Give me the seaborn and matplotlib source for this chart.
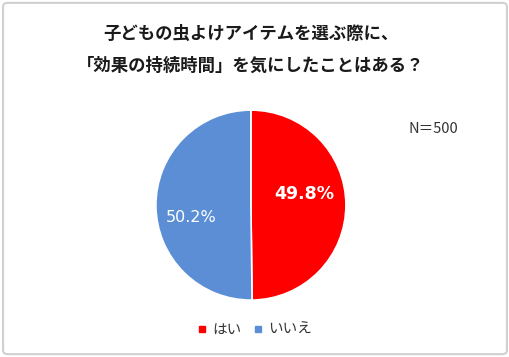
import matplotlib
matplotlib.use("Agg")
import matplotlib.pyplot as plt
import seaborn as sns
from matplotlib.patches import FancyBboxPatch

# data
labels = ["はい", "いいえ"]
values = [49.8, 50.2]
colors = ["#FF0000", "#5B8ED5"]
title = "子どもの虫よけアイテムを選ぶ際に、\n「効果の持続時間」を気にしたことはある？"
n_note = "N＝500"

sns.set_theme(style="white")
plt.rcParams['font.family'] = ['Noto Sans CJK JP', 'DejaVu Sans']

fig = plt.figure(figsize=(5.1, 3.57), dpi=100)

# outer frame like the original chart area
fig.patches.append(FancyBboxPatch((0.006, 0.008), 0.988, 0.984, boxstyle="round,pad=0,rounding_size=0.01",
                                  transform=fig.transFigure, fill=False, edgecolor="#D0D0D0", linewidth=1.5))

ax = fig.add_axes([0.302, 0.154, 0.380, 0.543])
wedges, texts, autotexts = ax.pie(values, colors=colors, startangle=90, counterclock=False,
                                  autopct="%1.1f%%", pctdistance=0.6,
                                  wedgeprops=dict(edgecolor="white", linewidth=1.2))
ax.set_aspect("equal")
ax.set_xlim(-1.02, 1.02)
ax.set_ylim(-1.02, 1.02)

autotexts[0].set_position((0.56, 0.12))
autotexts[0].set_fontsize(12.5)
autotexts[0].set_fontweight("bold")
autotexts[0].set_color("white")
autotexts[1].set_position((-0.63, -0.13))
autotexts[1].set_fontsize(11.5)
autotexts[1].set_color("white")
for t in autotexts:
    t.set_family(['DejaVu Sans'])

fig.text(0.492, 0.86, title, ha="center", va="center", fontsize=12.5, fontweight="bold",
         color="#1A1A1A", linespacing=2.0)
fig.text(0.85, 0.64, n_note, ha="center", va="center", fontsize=10.5, color="#333333")

handles = [plt.Line2D([], [], marker="s", linestyle="", color=c, markersize=5) for c in colors]
fig.legend(handles, labels, loc="center", bbox_to_anchor=(0.5, 0.075), ncol=2, frameon=False,
           fontsize=10.5, handlelength=0.6, handletextpad=0.4, columnspacing=0.8, labelcolor="#333333")

fig.savefig("out.png", dpi=100)
